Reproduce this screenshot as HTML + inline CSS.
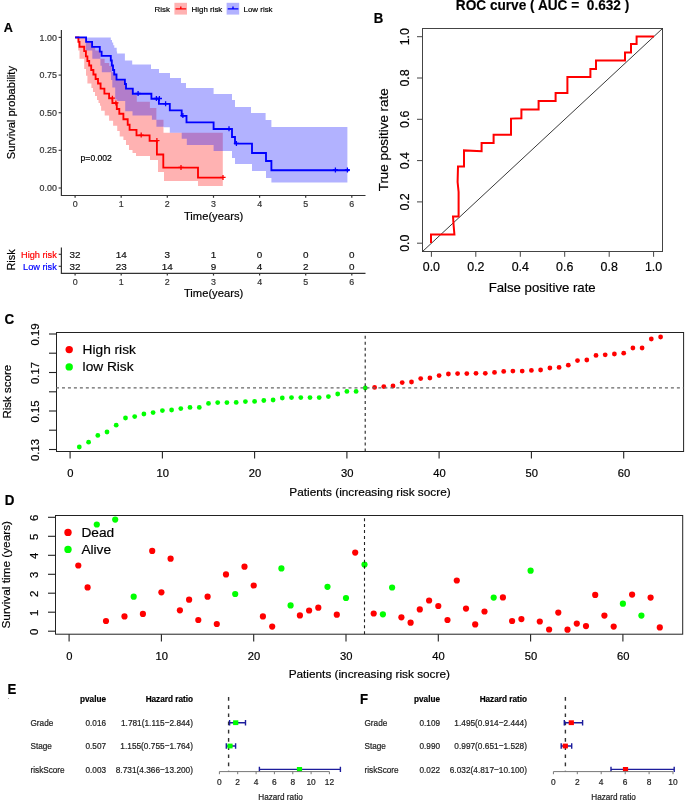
<!DOCTYPE html>
<html><head><meta charset="utf-8"><style>
html,body{margin:0;padding:0;background:#fff;}
body{width:685px;height:801px;overflow:hidden;font-family:"Liberation Sans", sans-serif;}
svg{display:block;will-change:transform;}
</style></head><body>
<svg width="685" height="801" viewBox="0 0 685 801" font-family='"Liberation Sans", sans-serif'>
<path d="M75.1,37.4 L85.8,37.4 L85.8,41.8 L92.0,41.8 L92.0,47.1 L95.2,47.1 L95.2,50.6 L100.4,50.6 L100.4,58.8 L104.6,58.8 L104.6,63.0 L109.2,63.0 L109.2,66.0 L111.7,66.0 L111.7,72.3 L115.2,72.3 L115.2,75.0 L116.5,75.0 L116.5,79.6 L125.0,79.6 L125.0,88.6 L132.8,88.6 L132.8,95.0 L136.8,95.0 L136.8,101.8 L149.9,101.8 L149.9,107.9 L156.4,107.9 L156.4,119.8 L163.5,119.8 L163.5,132.7 L222.8,132.7 L222.8,132.7 L222.8,186.0 L198.0,186.0 L198.0,181.0 L164.0,181.0 L164.0,172.0 L158.0,172.0 L158.0,160.0 L150.0,160.0 L150.0,156.0 L136.0,156.0 L136.0,153.0 L132.5,153.0 L132.5,150.0 L129.0,150.0 L129.0,145.0 L126.0,145.0 L126.0,140.0 L123.4,140.0 L123.4,136.4 L119.7,136.4 L119.7,130.9 L117.2,130.9 L117.2,125.8 L113.1,125.8 L113.1,120.7 L109.1,120.7 L109.1,115.5 L104.7,115.5 L104.7,110.8 L101.1,110.8 L101.1,105.7 L100.0,105.7 L100.0,103.0 L98.5,103.0 L98.5,100.0 L97.0,100.0 L97.0,96.0 L95.0,96.0 L95.0,92.0 L93.0,92.0 L93.0,88.0 L91.4,88.0 L91.4,83.6 L87.4,83.6 L87.4,75.7 L86.0,75.7 L86.0,69.0 L84.2,69.0 L84.2,58.8 L79.5,58.8 L79.5,50.4 L78.2,50.4 L78.2,38.5 L75.1,38.5 Z" fill="#FF0000" fill-opacity="0.3"/>
<path d="M75.1,37.4 L110.8,37.4 L110.8,40.0 L112.0,40.0 L112.0,42.5 L113.2,42.5 L113.2,45.3 L114.3,45.3 L114.3,47.8 L116.7,47.8 L116.7,51.5 L117.1,51.5 L117.1,53.5 L124.9,53.5 L124.9,60.5 L132.2,60.5 L132.2,64.6 L151.0,64.6 L151.0,69.0 L159.0,69.0 L159.0,73.0 L170.0,73.0 L170.0,78.0 L181.0,78.0 L181.0,83.0 L186.0,83.0 L186.0,88.0 L213.6,88.0 L213.6,94.0 L232.0,94.0 L232.0,100.0 L235.0,100.0 L235.0,107.0 L251.0,107.0 L251.0,113.0 L265.6,113.0 L265.6,120.0 L271.4,120.0 L271.4,127.0 L347.4,127.0 L347.4,127.0 L347.4,182.6 L271.4,182.6 L271.4,178.0 L266.0,178.0 L266.0,171.0 L252.0,171.0 L252.0,164.0 L235.0,164.0 L235.0,158.0 L232.0,158.0 L232.0,151.0 L213.6,151.0 L213.6,145.1 L186.8,145.1 L186.8,138.7 L181.7,138.7 L181.7,132.7 L169.8,132.7 L169.8,127.2 L163.8,127.2 L163.8,126.7 L156.4,126.7 L156.4,119.8 L151.9,119.8 L151.9,115.5 L132.5,115.5 L132.5,111.2 L125.2,111.2 L125.2,101.0 L117.2,101.0 L117.2,99.5 L115.2,99.5 L115.2,87.4 L112.3,87.4 L112.3,80.0 L111.1,80.0 L111.1,72.3 L101.8,72.3 L101.8,65.8 L100.4,65.8 L100.4,58.8 L92.3,58.8 L92.3,50.6 L85.8,50.6 L85.8,38.5 L75.1,38.5 Z" fill="#0000FF" fill-opacity="0.3"/>
<path d="M75.1,37.4 L78.4,37.4 L78.4,41.9 L79.5,41.9 L79.5,46.7 L84.2,46.7 L84.2,51.1 L85.9,51.1 L85.9,56.3 L87.4,56.3 L87.4,61.0 L89.2,61.0 L89.2,65.5 L91.2,65.5 L91.2,70.0 L93.4,70.0 L93.4,74.5 L95.6,74.5 L95.6,79.0 L98.0,79.0 L98.0,83.5 L100.6,83.5 L100.6,88.6 L104.4,88.6 L104.4,93.6 L109.1,93.6 L109.1,98.4 L112.4,98.4 L112.4,103.1 L116.8,103.1 L116.8,109.0 L119.3,109.0 L119.3,113.7 L123.4,113.7 L123.4,119.2 L127.7,119.2 L127.7,124.7 L129.6,124.7 L129.6,129.8 L136.5,129.8 L136.5,135.3 L149.6,135.3 L149.6,140.8 L156.9,140.8 L156.9,154.5 L163.3,154.5 L163.3,167.6 L198.0,167.6 L198.0,177.6 L223.0,177.6 L223.0,177.6" fill="none" stroke="#FF0000" stroke-width="1.85"/>
<path d="M75.1,37.4 L86.1,37.4 L86.1,41.8 L92.1,41.8 L92.1,46.8 L99.8,46.8 L99.8,51.6 L101.6,51.6 L101.6,55.9 L110.8,55.9 L110.8,60.5 L111.8,60.5 L111.8,65.5 L113.0,65.5 L113.0,70.0 L114.2,70.0 L114.2,74.5 L116.5,74.5 L116.5,79.6 L124.9,79.6 L124.9,84.0 L126.0,84.0 L126.0,88.6 L132.8,88.6 L132.8,93.7 L151.4,93.7 L151.4,98.7 L158.9,98.7 L158.9,103.9 L169.8,103.9 L169.8,110.4 L181.7,110.4 L181.7,115.8 L186.5,115.8 L186.5,122.4 L213.6,122.4 L213.6,129.0 L232.0,129.0 L232.0,137.0 L235.0,137.0 L235.0,143.6 L252.0,143.6 L252.0,153.0 L266.0,153.0 L266.0,161.0 L271.4,161.0 L271.4,170.2 L349.4,170.2 L349.4,170.2" fill="none" stroke="#0000FF" stroke-width="1.85"/>
<path d="M112.4,95.7 V100.7 M109.80000000000001,98.2 H115.0" stroke="#FF0000" stroke-width="1.3"/>
<path d="M115.9,100.39999999999999 V105.39999999999999 M113.30000000000001,102.89999999999999 H118.5" stroke="#FF0000" stroke-width="1.3"/>
<path d="M141.2,132.60000000000002 V137.60000000000002 M138.6,135.10000000000002 H143.79999999999998" stroke="#FF0000" stroke-width="1.3"/>
<path d="M156.9,138.10000000000002 V143.10000000000002 M154.3,140.60000000000002 H159.5" stroke="#FF0000" stroke-width="1.3"/>
<path d="M181,164.9 V169.9 M178.4,167.4 H183.6" stroke="#FF0000" stroke-width="1.3"/>
<path d="M223,174.9 V179.9 M220.4,177.4 H225.6" stroke="#FF0000" stroke-width="1.3"/>
<path d="M138.1,91.0 V96.0 M135.5,93.5 H140.7" stroke="#0000FF" stroke-width="1.3"/>
<path d="M156.4,96.0 V101.0 M153.8,98.5 H159.0" stroke="#0000FF" stroke-width="1.3"/>
<path d="M159.4,96.0 V101.0 M156.8,98.5 H162.0" stroke="#0000FF" stroke-width="1.3"/>
<path d="M165.6,101.2 V106.2 M163.0,103.7 H168.2" stroke="#0000FF" stroke-width="1.3"/>
<path d="M182.9,113.1 V118.1 M180.3,115.6 H185.5" stroke="#0000FF" stroke-width="1.3"/>
<path d="M229,126.3 V131.3 M226.4,128.8 H231.6" stroke="#0000FF" stroke-width="1.3"/>
<path d="M236.4,140.9 V145.9 M233.8,143.4 H239.0" stroke="#0000FF" stroke-width="1.3"/>
<path d="M335.4,167.5 V172.5 M332.79999999999995,170.0 H338.0" stroke="#0000FF" stroke-width="1.3"/>
<path d="M347.4,167.5 V172.5 M344.79999999999995,170.0 H350.0" stroke="#0000FF" stroke-width="1.3"/>
<path d="M61.4,30 V195.5 H365.5" fill="none" stroke="#333" stroke-width="1.2"/>
<path d="M58.6,37.4 H61" stroke="#333" stroke-width="1.1"/>
<text x="56.9" y="40.5" font-size="8.9" text-anchor="end" fill="#333" stroke="#333" stroke-width="0.2">1.00</text>
<path d="M58.6,75.1 H61" stroke="#333" stroke-width="1.1"/>
<text x="56.9" y="78.2" font-size="8.9" text-anchor="end" fill="#333" stroke="#333" stroke-width="0.2">0.75</text>
<path d="M58.6,112.7 H61" stroke="#333" stroke-width="1.1"/>
<text x="56.9" y="115.8" font-size="8.9" text-anchor="end" fill="#333" stroke="#333" stroke-width="0.2">0.50</text>
<path d="M58.6,150.3 H61" stroke="#333" stroke-width="1.1"/>
<text x="56.9" y="153.4" font-size="8.9" text-anchor="end" fill="#333" stroke="#333" stroke-width="0.2">0.25</text>
<path d="M58.6,188.0 H61" stroke="#333" stroke-width="1.1"/>
<text x="56.9" y="191.1" font-size="8.9" text-anchor="end" fill="#333" stroke="#333" stroke-width="0.2">0.00</text>
<path d="M75.1,196 V197.8" stroke="#333" stroke-width="1.2"/>
<text x="75.1" y="206.6" font-size="8.9" text-anchor="middle" fill="#333" stroke="#333" stroke-width="0.2">0</text>
<path d="M121.2,196 V197.8" stroke="#333" stroke-width="1.2"/>
<text x="121.2" y="206.6" font-size="8.9" text-anchor="middle" fill="#333" stroke="#333" stroke-width="0.2">1</text>
<path d="M167.3,196 V197.8" stroke="#333" stroke-width="1.2"/>
<text x="167.3" y="206.6" font-size="8.9" text-anchor="middle" fill="#333" stroke="#333" stroke-width="0.2">2</text>
<path d="M213.5,196 V197.8" stroke="#333" stroke-width="1.2"/>
<text x="213.5" y="206.6" font-size="8.9" text-anchor="middle" fill="#333" stroke="#333" stroke-width="0.2">3</text>
<path d="M259.6,196 V197.8" stroke="#333" stroke-width="1.2"/>
<text x="259.6" y="206.6" font-size="8.9" text-anchor="middle" fill="#333" stroke="#333" stroke-width="0.2">4</text>
<path d="M305.7,196 V197.8" stroke="#333" stroke-width="1.2"/>
<text x="305.7" y="206.6" font-size="8.9" text-anchor="middle" fill="#333" stroke="#333" stroke-width="0.2">5</text>
<path d="M351.8,196 V197.8" stroke="#333" stroke-width="1.2"/>
<text x="351.8" y="206.6" font-size="8.9" text-anchor="middle" fill="#333" stroke="#333" stroke-width="0.2">6</text>
<text x="213.6" y="219.6" font-size="11.2" text-anchor="middle" fill="#000" stroke="#000" stroke-width="0.2">Time(years)</text>
<text x="15.2" y="112.6" font-size="11.1" text-anchor="middle" fill="#000" stroke="#000" stroke-width="0.2" transform="rotate(-90 15.2 112.6)">Survival probability</text>
<text x="80.6" y="161.2" font-size="8.6" text-anchor="start" fill="#000" stroke="#000" stroke-width="0.2">p=0.002</text>
<text x="0" y="0" transform="translate(3.7 32.2) scale(1 1.06)" font-size="12.6" text-anchor="start" fill="#000" font-weight="bold" stroke="#000" stroke-width="0.2">A</text>
<text x="154.6" y="11.5" font-size="7.9" text-anchor="start" fill="#000" stroke="#000" stroke-width="0.2">Risk</text>
<rect x="174.4" y="2.8" width="12.6" height="11.8" fill="#FF0000" fill-opacity="0.3"/>
<path d="M175.5,8.9 H186.2 M180.8,6.4 V9.6" stroke="#FF0000" stroke-width="1.4"/>
<text x="191.6" y="11.5" font-size="7.9" text-anchor="start" fill="#000" stroke="#000" stroke-width="0.2">High risk</text>
<rect x="226.6" y="2.8" width="12.6" height="11.8" fill="#0000FF" fill-opacity="0.3"/>
<path d="M227.7,8.9 H238.4 M233,6.4 V9.6" stroke="#0000FF" stroke-width="1.4"/>
<text x="243.6" y="11.5" font-size="7.9" text-anchor="start" fill="#000" stroke="#000" stroke-width="0.2">Low risk</text>
<path d="M61.4,247.4 V273.3 H365.5" fill="none" stroke="#333" stroke-width="1.2"/>
<path d="M58.7,254.3 H61" stroke="#333" stroke-width="1.1"/>
<path d="M58.7,266.3 H61" stroke="#333" stroke-width="1.1"/>
<text x="56.8" y="257.7" font-size="9.2" text-anchor="end" fill="#FF0000" stroke="#FF0000" stroke-width="0.2">High risk</text>
<text x="56.8" y="269.5" font-size="9.2" text-anchor="end" fill="#0000FF" stroke="#0000FF" stroke-width="0.2">Low risk</text>
<text x="15.3" y="260" font-size="10.9" text-anchor="middle" fill="#000" stroke="#000" stroke-width="0.2" transform="rotate(-90 15.3 260)">Risk</text>
<text x="75.1" y="257.9" font-size="9.9" text-anchor="middle" fill="#111" stroke="#111" stroke-width="0.2">32</text>
<text x="75.1" y="270.0" font-size="9.9" text-anchor="middle" fill="#111" stroke="#111" stroke-width="0.2">32</text>
<path d="M75.1,274 V275.6" stroke="#333" stroke-width="1.2"/>
<text x="75.1" y="284.6" font-size="8.9" text-anchor="middle" fill="#333" stroke="#333" stroke-width="0.2">0</text>
<text x="121.2" y="257.9" font-size="9.9" text-anchor="middle" fill="#111" stroke="#111" stroke-width="0.2">14</text>
<text x="121.2" y="270.0" font-size="9.9" text-anchor="middle" fill="#111" stroke="#111" stroke-width="0.2">23</text>
<path d="M121.2,274 V275.6" stroke="#333" stroke-width="1.2"/>
<text x="121.2" y="284.6" font-size="8.9" text-anchor="middle" fill="#333" stroke="#333" stroke-width="0.2">1</text>
<text x="167.3" y="257.9" font-size="9.9" text-anchor="middle" fill="#111" stroke="#111" stroke-width="0.2">3</text>
<text x="167.3" y="270.0" font-size="9.9" text-anchor="middle" fill="#111" stroke="#111" stroke-width="0.2">14</text>
<path d="M167.3,274 V275.6" stroke="#333" stroke-width="1.2"/>
<text x="167.3" y="284.6" font-size="8.9" text-anchor="middle" fill="#333" stroke="#333" stroke-width="0.2">2</text>
<text x="213.5" y="257.9" font-size="9.9" text-anchor="middle" fill="#111" stroke="#111" stroke-width="0.2">1</text>
<text x="213.5" y="270.0" font-size="9.9" text-anchor="middle" fill="#111" stroke="#111" stroke-width="0.2">9</text>
<path d="M213.5,274 V275.6" stroke="#333" stroke-width="1.2"/>
<text x="213.5" y="284.6" font-size="8.9" text-anchor="middle" fill="#333" stroke="#333" stroke-width="0.2">3</text>
<text x="259.6" y="257.9" font-size="9.9" text-anchor="middle" fill="#111" stroke="#111" stroke-width="0.2">0</text>
<text x="259.6" y="270.0" font-size="9.9" text-anchor="middle" fill="#111" stroke="#111" stroke-width="0.2">4</text>
<path d="M259.6,274 V275.6" stroke="#333" stroke-width="1.2"/>
<text x="259.6" y="284.6" font-size="8.9" text-anchor="middle" fill="#333" stroke="#333" stroke-width="0.2">4</text>
<text x="305.7" y="257.9" font-size="9.9" text-anchor="middle" fill="#111" stroke="#111" stroke-width="0.2">0</text>
<text x="305.7" y="270.0" font-size="9.9" text-anchor="middle" fill="#111" stroke="#111" stroke-width="0.2">2</text>
<path d="M305.7,274 V275.6" stroke="#333" stroke-width="1.2"/>
<text x="305.7" y="284.6" font-size="8.9" text-anchor="middle" fill="#333" stroke="#333" stroke-width="0.2">5</text>
<text x="351.8" y="257.9" font-size="9.9" text-anchor="middle" fill="#111" stroke="#111" stroke-width="0.2">0</text>
<text x="351.8" y="270.0" font-size="9.9" text-anchor="middle" fill="#111" stroke="#111" stroke-width="0.2">0</text>
<path d="M351.8,274 V275.6" stroke="#333" stroke-width="1.2"/>
<text x="351.8" y="284.6" font-size="8.9" text-anchor="middle" fill="#333" stroke="#333" stroke-width="0.2">6</text>
<text x="213.6" y="296.6" font-size="11.2" text-anchor="middle" fill="#000" stroke="#000" stroke-width="0.2">Time(years)</text>
<text x="0" y="0" transform="translate(373.8 22.8) scale(1 1.04)" font-size="13.2" text-anchor="start" fill="#000" font-weight="bold" stroke="#000" stroke-width="0.2">B</text>
<text x="0" y="0" transform="translate(455.8 10.1) scale(1 1.05)" font-size="13.65" font-weight="bold" fill="#000" stroke="#000" stroke-width="0.15" xml:space="preserve">ROC curve ( AUC =  0.632 )</text>
<rect x="422.5" y="28.5" width="240" height="223" fill="none" stroke="#444" stroke-width="1"/>
<path d="M422.5,251.5 L662.5,28.5" stroke="#222" stroke-width="0.9"/>
<path d="M431.0,243.0 L431.0,234.4 L454.4,234.4 L453.6,225.0 L453.0,216.4 L458.6,216.4 L458.6,192.0 L457.6,182.0 L458.0,166.6 L464.0,166.6 L464.0,150.4 L481.6,151.2 L481.6,143.0 L493.6,143.0 L493.6,134.8 L511.0,134.8 L511.0,118.6 L521.4,118.2 L521.4,109.4 L538.6,109.4 L538.6,101.0 L555.6,101.0 L555.6,93.0 L567.4,93.0 L567.4,77.0 L590.4,77.0 L590.4,69.0 L596.0,69.0 L596.0,60.6 L625.0,60.6 L625.0,52.4 L631.0,52.4 L631.0,44.0 L636.6,44.0 L636.6,36.4 L654.0,36.4" fill="none" stroke="#FF0000" stroke-width="2"/>
<path d="M417,243.2 H422.5" stroke="#444" stroke-width="1"/>
<path d="M431.4,251.5 V256.8" stroke="#444" stroke-width="1"/>
<text x="431.4" y="271" font-size="12.4" text-anchor="middle" fill="#000" stroke="#000" stroke-width="0.2">0.0</text>
<text x="409.2" y="243.2" font-size="12.4" text-anchor="middle" fill="#000" stroke="#000" stroke-width="0.2" transform="rotate(-90 409.2 243.2)">0.0</text>
<path d="M417,201.9 H422.5" stroke="#444" stroke-width="1"/>
<path d="M475.8,251.5 V256.8" stroke="#444" stroke-width="1"/>
<text x="475.8" y="271" font-size="12.4" text-anchor="middle" fill="#000" stroke="#000" stroke-width="0.2">0.2</text>
<text x="409.2" y="201.9" font-size="12.4" text-anchor="middle" fill="#000" stroke="#000" stroke-width="0.2" transform="rotate(-90 409.2 201.9)">0.2</text>
<path d="M417,160.6 H422.5" stroke="#444" stroke-width="1"/>
<path d="M520.3,251.5 V256.8" stroke="#444" stroke-width="1"/>
<text x="520.3" y="271" font-size="12.4" text-anchor="middle" fill="#000" stroke="#000" stroke-width="0.2">0.4</text>
<text x="409.2" y="160.6" font-size="12.4" text-anchor="middle" fill="#000" stroke="#000" stroke-width="0.2" transform="rotate(-90 409.2 160.6)">0.4</text>
<path d="M417,119.3 H422.5" stroke="#444" stroke-width="1"/>
<path d="M564.7,251.5 V256.8" stroke="#444" stroke-width="1"/>
<text x="564.7" y="271" font-size="12.4" text-anchor="middle" fill="#000" stroke="#000" stroke-width="0.2">0.6</text>
<text x="409.2" y="119.3" font-size="12.4" text-anchor="middle" fill="#000" stroke="#000" stroke-width="0.2" transform="rotate(-90 409.2 119.3)">0.6</text>
<path d="M417,78.0 H422.5" stroke="#444" stroke-width="1"/>
<path d="M609.2,251.5 V256.8" stroke="#444" stroke-width="1"/>
<text x="609.2" y="271" font-size="12.4" text-anchor="middle" fill="#000" stroke="#000" stroke-width="0.2">0.8</text>
<text x="409.2" y="78.0" font-size="12.4" text-anchor="middle" fill="#000" stroke="#000" stroke-width="0.2" transform="rotate(-90 409.2 78.0)">0.8</text>
<path d="M417,36.7 H422.5" stroke="#444" stroke-width="1"/>
<path d="M653.6,251.5 V256.8" stroke="#444" stroke-width="1"/>
<text x="653.6" y="271" font-size="12.4" text-anchor="middle" fill="#000" stroke="#000" stroke-width="0.2">1.0</text>
<text x="409.2" y="36.7" font-size="12.4" text-anchor="middle" fill="#000" stroke="#000" stroke-width="0.2" transform="rotate(-90 409.2 36.7)">1.0</text>
<text x="542.2" y="291.8" font-size="13.2" text-anchor="middle" fill="#000" stroke="#000" stroke-width="0.2">False positive rate</text>
<text x="387.8" y="139.8" font-size="13.4" text-anchor="middle" fill="#000" stroke="#000" stroke-width="0.2" transform="rotate(-90 387.8 139.8)">True positive rate</text>
<text x="0" y="0" transform="translate(4.6 323.5) scale(1 1.04)" font-size="13.4" text-anchor="start" fill="#000" font-weight="bold" stroke="#000" stroke-width="0.2">C</text>
<rect x="56.5" y="332.5" width="627.1" height="119" fill="none" stroke="#222" stroke-width="1"/>
<circle cx="79.3" cy="447" r="2.4" fill="#00FF00"/>
<circle cx="88.6" cy="442.2" r="2.4" fill="#00FF00"/>
<circle cx="97.8" cy="435.4" r="2.4" fill="#00FF00"/>
<circle cx="107.0" cy="432" r="2.4" fill="#00FF00"/>
<circle cx="116.2" cy="425.2" r="2.4" fill="#00FF00"/>
<circle cx="125.5" cy="418" r="2.4" fill="#00FF00"/>
<circle cx="134.7" cy="416.6" r="2.4" fill="#00FF00"/>
<circle cx="143.9" cy="414" r="2.4" fill="#00FF00"/>
<circle cx="153.1" cy="412.6" r="2.4" fill="#00FF00"/>
<circle cx="162.4" cy="410.6" r="2.4" fill="#00FF00"/>
<circle cx="171.6" cy="410" r="2.4" fill="#00FF00"/>
<circle cx="180.8" cy="408.6" r="2.4" fill="#00FF00"/>
<circle cx="190.0" cy="407.4" r="2.4" fill="#00FF00"/>
<circle cx="199.3" cy="407.4" r="2.4" fill="#00FF00"/>
<circle cx="208.5" cy="403.4" r="2.4" fill="#00FF00"/>
<circle cx="217.7" cy="402.6" r="2.4" fill="#00FF00"/>
<circle cx="226.9" cy="402.6" r="2.4" fill="#00FF00"/>
<circle cx="236.2" cy="402.4" r="2.4" fill="#00FF00"/>
<circle cx="245.4" cy="401.6" r="2.4" fill="#00FF00"/>
<circle cx="254.6" cy="401.4" r="2.4" fill="#00FF00"/>
<circle cx="263.8" cy="400.5" r="2.4" fill="#00FF00"/>
<circle cx="273.1" cy="400" r="2.4" fill="#00FF00"/>
<circle cx="282.3" cy="398" r="2.4" fill="#00FF00"/>
<circle cx="291.5" cy="397.6" r="2.4" fill="#00FF00"/>
<circle cx="300.8" cy="397.6" r="2.4" fill="#00FF00"/>
<circle cx="310.0" cy="397.6" r="2.4" fill="#00FF00"/>
<circle cx="319.2" cy="397.6" r="2.4" fill="#00FF00"/>
<circle cx="328.4" cy="396.6" r="2.4" fill="#00FF00"/>
<circle cx="337.7" cy="394" r="2.4" fill="#00FF00"/>
<circle cx="346.9" cy="391.4" r="2.4" fill="#00FF00"/>
<circle cx="356.1" cy="391.4" r="2.4" fill="#00FF00"/>
<circle cx="365.3" cy="388" r="2.4" fill="#00FF00"/>
<circle cx="374.6" cy="387.4" r="2.4" fill="#FF0000"/>
<circle cx="383.8" cy="386.6" r="2.4" fill="#FF0000"/>
<circle cx="393.0" cy="386" r="2.4" fill="#FF0000"/>
<circle cx="402.2" cy="382.6" r="2.4" fill="#FF0000"/>
<circle cx="411.5" cy="382" r="2.4" fill="#FF0000"/>
<circle cx="420.7" cy="378.6" r="2.4" fill="#FF0000"/>
<circle cx="429.9" cy="378" r="2.4" fill="#FF0000"/>
<circle cx="439.1" cy="375.6" r="2.4" fill="#FF0000"/>
<circle cx="448.4" cy="374" r="2.4" fill="#FF0000"/>
<circle cx="457.6" cy="373.6" r="2.4" fill="#FF0000"/>
<circle cx="466.8" cy="373.6" r="2.4" fill="#FF0000"/>
<circle cx="476.0" cy="373.3" r="2.4" fill="#FF0000"/>
<circle cx="485.3" cy="373.3" r="2.4" fill="#FF0000"/>
<circle cx="494.5" cy="372.4" r="2.4" fill="#FF0000"/>
<circle cx="503.7" cy="371.4" r="2.4" fill="#FF0000"/>
<circle cx="512.9" cy="371.1" r="2.4" fill="#FF0000"/>
<circle cx="522.2" cy="371.1" r="2.4" fill="#FF0000"/>
<circle cx="531.4" cy="370.4" r="2.4" fill="#FF0000"/>
<circle cx="540.6" cy="370" r="2.4" fill="#FF0000"/>
<circle cx="549.9" cy="368" r="2.4" fill="#FF0000"/>
<circle cx="559.1" cy="367.4" r="2.4" fill="#FF0000"/>
<circle cx="568.3" cy="365.2" r="2.4" fill="#FF0000"/>
<circle cx="577.5" cy="360.6" r="2.4" fill="#FF0000"/>
<circle cx="586.8" cy="360" r="2.4" fill="#FF0000"/>
<circle cx="596.0" cy="355.4" r="2.4" fill="#FF0000"/>
<circle cx="605.2" cy="354.8" r="2.4" fill="#FF0000"/>
<circle cx="614.4" cy="354" r="2.4" fill="#FF0000"/>
<circle cx="623.7" cy="353.2" r="2.4" fill="#FF0000"/>
<circle cx="632.9" cy="348" r="2.4" fill="#FF0000"/>
<circle cx="642.1" cy="348" r="2.4" fill="#FF0000"/>
<circle cx="651.3" cy="339" r="2.4" fill="#FF0000"/>
<circle cx="660.6" cy="337" r="2.4" fill="#FF0000"/>
<path d="M56,387.8 H683.6" stroke="#666" stroke-width="1.2" stroke-dasharray="3 2.97"/>
<path d="M365.2,451.5 V332.5" stroke="#222" stroke-width="1.1" stroke-dasharray="3 2.93"/>
<path d="M49,449.5 H56.5" stroke="#222" stroke-width="1.1"/>
<text x="39.2" y="449.9" font-size="11.4" text-anchor="middle" fill="#000" stroke="#000" stroke-width="0.2" transform="rotate(-90 39.2 449.9)">0.13</text>
<path d="M49,430.2 H56.5" stroke="#222" stroke-width="1.1"/>
<path d="M49,411.0 H56.5" stroke="#222" stroke-width="1.1"/>
<text x="39.2" y="411.4" font-size="11.4" text-anchor="middle" fill="#000" stroke="#000" stroke-width="0.2" transform="rotate(-90 39.2 411.4)">0.15</text>
<path d="M49,391.8 H56.5" stroke="#222" stroke-width="1.1"/>
<path d="M49,372.5 H56.5" stroke="#222" stroke-width="1.1"/>
<text x="39.2" y="372.9" font-size="11.4" text-anchor="middle" fill="#000" stroke="#000" stroke-width="0.2" transform="rotate(-90 39.2 372.9)">0.17</text>
<path d="M49,353.2 H56.5" stroke="#222" stroke-width="1.1"/>
<path d="M49,334.0 H56.5" stroke="#222" stroke-width="1.1"/>
<text x="39.2" y="334.4" font-size="11.4" text-anchor="middle" fill="#000" stroke="#000" stroke-width="0.2" transform="rotate(-90 39.2 334.4)">0.19</text>
<path d="M70.1,451.5 V458.5" stroke="#222" stroke-width="1.1"/>
<text x="70.4" y="477.2" font-size="11.2" text-anchor="middle" fill="#000" stroke="#000" stroke-width="0.2">0</text>
<path d="M162.4,451.5 V458.5" stroke="#222" stroke-width="1.1"/>
<text x="162.7" y="477.2" font-size="11.2" text-anchor="middle" fill="#000" stroke="#000" stroke-width="0.2">10</text>
<path d="M254.6,451.5 V458.5" stroke="#222" stroke-width="1.1"/>
<text x="254.9" y="477.2" font-size="11.2" text-anchor="middle" fill="#000" stroke="#000" stroke-width="0.2">20</text>
<path d="M346.9,451.5 V458.5" stroke="#222" stroke-width="1.1"/>
<text x="347.2" y="477.2" font-size="11.2" text-anchor="middle" fill="#000" stroke="#000" stroke-width="0.2">30</text>
<path d="M439.1,451.5 V458.5" stroke="#222" stroke-width="1.1"/>
<text x="439.4" y="477.2" font-size="11.2" text-anchor="middle" fill="#000" stroke="#000" stroke-width="0.2">40</text>
<path d="M531.4,451.5 V458.5" stroke="#222" stroke-width="1.1"/>
<text x="531.7" y="477.2" font-size="11.2" text-anchor="middle" fill="#000" stroke="#000" stroke-width="0.2">50</text>
<path d="M623.7,451.5 V458.5" stroke="#222" stroke-width="1.1"/>
<text x="624.0" y="477.2" font-size="11.2" text-anchor="middle" fill="#000" stroke="#000" stroke-width="0.2">60</text>
<text x="370" y="495.6" font-size="11.8" text-anchor="middle" fill="#000" stroke="#000" stroke-width="0.2">Patients (increasing risk socre)</text>
<text x="10.8" y="391.7" font-size="11.5" text-anchor="middle" fill="#000" stroke="#000" stroke-width="0.2" transform="rotate(-90 10.8 391.7)">Risk score</text>
<circle cx="69.2" cy="349.6" r="3.7" fill="#FF0000"/>
<circle cx="69.2" cy="366.9" r="3.7" fill="#00FF00"/>
<text x="82.6" y="354.2" font-size="13.7" text-anchor="start" fill="#000" stroke="#000" stroke-width="0.2">High risk</text>
<text x="82.6" y="371.3" font-size="13.7" text-anchor="start" fill="#000" stroke="#000" stroke-width="0.2">low Risk</text>
<text x="0" y="0" transform="translate(4.8 505.2) scale(1 1.04)" font-size="13.4" text-anchor="start" fill="#000" font-weight="bold" stroke="#000" stroke-width="0.2">D</text>
<rect x="55.5" y="515.5" width="627.2" height="118.7" fill="none" stroke="#222" stroke-width="1"/>
<circle cx="78.3" cy="565.5" r="3.1" fill="#FF0000"/>
<circle cx="87.6" cy="587.4" r="3.1" fill="#FF0000"/>
<circle cx="96.8" cy="524.5" r="3.1" fill="#00FF00"/>
<circle cx="106.0" cy="621.0" r="3.1" fill="#FF0000"/>
<circle cx="115.2" cy="519.6" r="3.1" fill="#00FF00"/>
<circle cx="124.5" cy="616.4" r="3.1" fill="#FF0000"/>
<circle cx="133.7" cy="596.7" r="3.1" fill="#00FF00"/>
<circle cx="142.9" cy="613.9" r="3.1" fill="#FF0000"/>
<circle cx="152.2" cy="550.9" r="3.1" fill="#FF0000"/>
<circle cx="161.4" cy="592.3" r="3.1" fill="#FF0000"/>
<circle cx="170.6" cy="558.7" r="3.1" fill="#FF0000"/>
<circle cx="179.9" cy="610.3" r="3.1" fill="#FF0000"/>
<circle cx="189.1" cy="599.7" r="3.1" fill="#FF0000"/>
<circle cx="198.3" cy="620.0" r="3.1" fill="#FF0000"/>
<circle cx="207.6" cy="596.7" r="3.1" fill="#FF0000"/>
<circle cx="216.8" cy="624.0" r="3.1" fill="#FF0000"/>
<circle cx="226.0" cy="574.4" r="3.1" fill="#FF0000"/>
<circle cx="235.2" cy="594.0" r="3.1" fill="#00FF00"/>
<circle cx="244.5" cy="566.7" r="3.1" fill="#FF0000"/>
<circle cx="253.7" cy="585.5" r="3.1" fill="#FF0000"/>
<circle cx="262.9" cy="616.4" r="3.1" fill="#FF0000"/>
<circle cx="272.2" cy="626.6" r="3.1" fill="#FF0000"/>
<circle cx="281.4" cy="568.4" r="3.1" fill="#00FF00"/>
<circle cx="290.6" cy="605.4" r="3.1" fill="#00FF00"/>
<circle cx="299.9" cy="615.4" r="3.1" fill="#FF0000"/>
<circle cx="309.1" cy="610.5" r="3.1" fill="#FF0000"/>
<circle cx="318.3" cy="607.7" r="3.1" fill="#FF0000"/>
<circle cx="327.5" cy="586.8" r="3.1" fill="#00FF00"/>
<circle cx="336.8" cy="614.7" r="3.1" fill="#FF0000"/>
<circle cx="346.0" cy="598.0" r="3.1" fill="#00FF00"/>
<circle cx="355.2" cy="552.6" r="3.1" fill="#FF0000"/>
<circle cx="364.5" cy="564.6" r="3.1" fill="#00FF00"/>
<circle cx="373.7" cy="613.5" r="3.1" fill="#FF0000"/>
<circle cx="382.9" cy="614.3" r="3.1" fill="#00FF00"/>
<circle cx="392.1" cy="587.5" r="3.1" fill="#00FF00"/>
<circle cx="401.4" cy="617.3" r="3.1" fill="#FF0000"/>
<circle cx="410.6" cy="622.7" r="3.1" fill="#FF0000"/>
<circle cx="419.8" cy="609.4" r="3.1" fill="#FF0000"/>
<circle cx="429.1" cy="600.5" r="3.1" fill="#FF0000"/>
<circle cx="438.3" cy="606.0" r="3.1" fill="#FF0000"/>
<circle cx="447.5" cy="620.0" r="3.1" fill="#FF0000"/>
<circle cx="456.8" cy="580.5" r="3.1" fill="#FF0000"/>
<circle cx="466.0" cy="608.6" r="3.1" fill="#FF0000"/>
<circle cx="475.2" cy="624.4" r="3.1" fill="#FF0000"/>
<circle cx="484.5" cy="611.5" r="3.1" fill="#FF0000"/>
<circle cx="493.7" cy="597.6" r="3.1" fill="#00FF00"/>
<circle cx="502.9" cy="597.4" r="3.1" fill="#FF0000"/>
<circle cx="512.1" cy="621.0" r="3.1" fill="#FF0000"/>
<circle cx="521.4" cy="619.1" r="3.1" fill="#FF0000"/>
<circle cx="530.6" cy="570.7" r="3.1" fill="#00FF00"/>
<circle cx="539.8" cy="621.5" r="3.1" fill="#FF0000"/>
<circle cx="549.1" cy="629.5" r="3.1" fill="#FF0000"/>
<circle cx="558.3" cy="612.6" r="3.1" fill="#FF0000"/>
<circle cx="567.5" cy="629.7" r="3.1" fill="#FF0000"/>
<circle cx="576.8" cy="623.6" r="3.1" fill="#FF0000"/>
<circle cx="586.0" cy="626.1" r="3.1" fill="#FF0000"/>
<circle cx="595.2" cy="594.9" r="3.1" fill="#FF0000"/>
<circle cx="604.4" cy="615.6" r="3.1" fill="#FF0000"/>
<circle cx="613.7" cy="626.6" r="3.1" fill="#FF0000"/>
<circle cx="622.9" cy="603.7" r="3.1" fill="#00FF00"/>
<circle cx="632.1" cy="594.6" r="3.1" fill="#FF0000"/>
<circle cx="641.4" cy="615.6" r="3.1" fill="#00FF00"/>
<circle cx="650.6" cy="597.6" r="3.1" fill="#FF0000"/>
<circle cx="659.8" cy="627.4" r="3.1" fill="#FF0000"/>
<path d="M364.5,634.2 V515.5" stroke="#222" stroke-width="1.1" stroke-dasharray="3 2.95"/>
<path d="M48,631.2 H55.5" stroke="#222" stroke-width="1.1"/>
<text x="38.4" y="631.7" font-size="11.4" text-anchor="middle" fill="#000" stroke="#000" stroke-width="0.2" transform="rotate(-90 38.4 631.7)">0</text>
<path d="M48,612.2 H55.5" stroke="#222" stroke-width="1.1"/>
<text x="38.4" y="612.7" font-size="11.4" text-anchor="middle" fill="#000" stroke="#000" stroke-width="0.2" transform="rotate(-90 38.4 612.7)">1</text>
<path d="M48,593.2 H55.5" stroke="#222" stroke-width="1.1"/>
<text x="38.4" y="593.7" font-size="11.4" text-anchor="middle" fill="#000" stroke="#000" stroke-width="0.2" transform="rotate(-90 38.4 593.7)">2</text>
<path d="M48,574.3 H55.5" stroke="#222" stroke-width="1.1"/>
<text x="38.4" y="574.8" font-size="11.4" text-anchor="middle" fill="#000" stroke="#000" stroke-width="0.2" transform="rotate(-90 38.4 574.8)">3</text>
<path d="M48,555.3 H55.5" stroke="#222" stroke-width="1.1"/>
<text x="38.4" y="555.8" font-size="11.4" text-anchor="middle" fill="#000" stroke="#000" stroke-width="0.2" transform="rotate(-90 38.4 555.8)">4</text>
<path d="M48,536.3 H55.5" stroke="#222" stroke-width="1.1"/>
<text x="38.4" y="536.8" font-size="11.4" text-anchor="middle" fill="#000" stroke="#000" stroke-width="0.2" transform="rotate(-90 38.4 536.8)">5</text>
<path d="M48,517.3 H55.5" stroke="#222" stroke-width="1.1"/>
<text x="38.4" y="517.8" font-size="11.4" text-anchor="middle" fill="#000" stroke="#000" stroke-width="0.2" transform="rotate(-90 38.4 517.8)">6</text>
<path d="M69.1,634.2 V641.4" stroke="#222" stroke-width="1.1"/>
<text x="69.4" y="660.2" font-size="11.2" text-anchor="middle" fill="#000" stroke="#000" stroke-width="0.2">0</text>
<path d="M161.4,634.2 V641.4" stroke="#222" stroke-width="1.1"/>
<text x="161.7" y="660.2" font-size="11.2" text-anchor="middle" fill="#000" stroke="#000" stroke-width="0.2">10</text>
<path d="M253.7,634.2 V641.4" stroke="#222" stroke-width="1.1"/>
<text x="254.0" y="660.2" font-size="11.2" text-anchor="middle" fill="#000" stroke="#000" stroke-width="0.2">20</text>
<path d="M346.0,634.2 V641.4" stroke="#222" stroke-width="1.1"/>
<text x="346.3" y="660.2" font-size="11.2" text-anchor="middle" fill="#000" stroke="#000" stroke-width="0.2">30</text>
<path d="M438.3,634.2 V641.4" stroke="#222" stroke-width="1.1"/>
<text x="438.6" y="660.2" font-size="11.2" text-anchor="middle" fill="#000" stroke="#000" stroke-width="0.2">40</text>
<path d="M530.6,634.2 V641.4" stroke="#222" stroke-width="1.1"/>
<text x="530.9" y="660.2" font-size="11.2" text-anchor="middle" fill="#000" stroke="#000" stroke-width="0.2">50</text>
<path d="M622.9,634.2 V641.4" stroke="#222" stroke-width="1.1"/>
<text x="623.2" y="660.2" font-size="11.2" text-anchor="middle" fill="#000" stroke="#000" stroke-width="0.2">60</text>
<text x="369.3" y="678.2" font-size="11.8" text-anchor="middle" fill="#000" stroke="#000" stroke-width="0.2">Patients (increasing risk socre)</text>
<text x="10" y="574.8" font-size="11.8" text-anchor="middle" fill="#000" stroke="#000" stroke-width="0.2" transform="rotate(-90 10 574.8)">Survival time (years)</text>
<circle cx="68" cy="532.4" r="3.7" fill="#FF0000"/>
<circle cx="68" cy="549.4" r="3.7" fill="#00FF00"/>
<text x="81.4" y="537.2" font-size="13.7" text-anchor="start" fill="#000" stroke="#000" stroke-width="0.2">Dead</text>
<text x="81.4" y="554.4" font-size="13.7" text-anchor="start" fill="#000" stroke="#000" stroke-width="0.2">Alive</text>
<rect x="8" y="698" width="1" height="1" fill="#aaa"/>
<text x="0" y="0" transform="translate(7.4 694.4) scale(1 1.04)" font-size="13.2" text-anchor="start" fill="#000" font-weight="bold" stroke="#000" stroke-width="0.2">E</text>
<text x="0" y="0" transform="translate(106 702.3) scale(1 1.15)" font-size="8.2" text-anchor="end" fill="#000" font-weight="bold" stroke="#000" stroke-width="0.2">pvalue</text>
<text x="0" y="0" transform="translate(193 702.3) scale(1 1.15)" font-size="8.2" text-anchor="end" fill="#000" font-weight="bold" stroke="#000" stroke-width="0.2">Hazard ratio</text>
<text x="0" y="0" transform="translate(30.5 725.8000000000001) scale(1 1.15)" font-size="8.2" text-anchor="start" fill="#222" stroke="#222" stroke-width="0.2">Grade</text>
<text x="0" y="0" transform="translate(106 725.8000000000001) scale(1 1.15)" font-size="8.2" text-anchor="end" fill="#222" stroke="#222" stroke-width="0.2">0.016</text>
<text x="0" y="0" transform="translate(193 725.8000000000001) scale(1 1.15)" font-size="8.3" text-anchor="end" fill="#222" stroke="#222" stroke-width="0.2">1.781(1.115−2.844)</text>
<text x="0" y="0" transform="translate(30.5 749.1) scale(1 1.15)" font-size="8.2" text-anchor="start" fill="#222" stroke="#222" stroke-width="0.2">Stage</text>
<text x="0" y="0" transform="translate(106 749.1) scale(1 1.15)" font-size="8.2" text-anchor="end" fill="#222" stroke="#222" stroke-width="0.2">0.507</text>
<text x="0" y="0" transform="translate(193 749.1) scale(1 1.15)" font-size="8.3" text-anchor="end" fill="#222" stroke="#222" stroke-width="0.2">1.155(0.755−1.764)</text>
<text x="0" y="0" transform="translate(30.5 772.5) scale(1 1.15)" font-size="8.2" text-anchor="start" fill="#222" stroke="#222" stroke-width="0.2">riskScore</text>
<text x="0" y="0" transform="translate(106 772.5) scale(1 1.15)" font-size="8.2" text-anchor="end" fill="#222" stroke="#222" stroke-width="0.2">0.003</text>
<text x="0" y="0" transform="translate(193 772.5) scale(1 1.15)" font-size="8.3" text-anchor="end" fill="#222" stroke="#222" stroke-width="0.2">8.731(4.366−13.200)</text>
<path d="M228.6,697 V771.6" stroke="#333" stroke-width="1.4" stroke-dasharray="3.7,4.5"/>
<path d="M229.6,722.7 H245.5 M229.6,720.0 V725.4000000000001 M245.5,720.0 V725.4000000000001" stroke="#1c1c9c" stroke-width="1.4"/>
<rect x="233.1" y="720.3000000000001" width="5.2" height="4.8" fill="#00FF00"/>
<path d="M226.3,746 H235.6 M226.3,743.3 V748.7 M235.6,743.3 V748.7" stroke="#1c1c9c" stroke-width="1.4"/>
<rect x="227.4" y="743.6" width="5.2" height="4.8" fill="#00FF00"/>
<path d="M259.4,769.4 H340.4 M259.4,766.6999999999999 V772.1 M340.4,766.6999999999999 V772.1" stroke="#1c1c9c" stroke-width="1.4"/>
<rect x="296.9" y="767.0" width="5.2" height="4.8" fill="#00FF00"/>
<path d="M219.4,771.6 H329.4" stroke="#777" stroke-width="1"/>
<path d="M219.4,771.6 V774.2" stroke="#777" stroke-width="1"/>
<text x="0" y="0" transform="translate(219.4 785.2) scale(1 1.1)" font-size="8.4" text-anchor="middle" fill="#222" stroke="#222" stroke-width="0.2">0</text>
<path d="M237.7,771.6 V774.2" stroke="#777" stroke-width="1"/>
<text x="0" y="0" transform="translate(237.7 785.2) scale(1 1.1)" font-size="8.4" text-anchor="middle" fill="#222" stroke="#222" stroke-width="0.2">2</text>
<path d="M256.1,771.6 V774.2" stroke="#777" stroke-width="1"/>
<text x="0" y="0" transform="translate(256.1 785.2) scale(1 1.1)" font-size="8.4" text-anchor="middle" fill="#222" stroke="#222" stroke-width="0.2">4</text>
<path d="M274.4,771.6 V774.2" stroke="#777" stroke-width="1"/>
<text x="0" y="0" transform="translate(274.4 785.2) scale(1 1.1)" font-size="8.4" text-anchor="middle" fill="#222" stroke="#222" stroke-width="0.2">6</text>
<path d="M292.8,771.6 V774.2" stroke="#777" stroke-width="1"/>
<text x="0" y="0" transform="translate(292.8 785.2) scale(1 1.1)" font-size="8.4" text-anchor="middle" fill="#222" stroke="#222" stroke-width="0.2">8</text>
<path d="M311.1,771.6 V774.2" stroke="#777" stroke-width="1"/>
<text x="0" y="0" transform="translate(311.1 785.2) scale(1 1.1)" font-size="8.4" text-anchor="middle" fill="#222" stroke="#222" stroke-width="0.2">10</text>
<path d="M329.4,771.6 V774.2" stroke="#777" stroke-width="1"/>
<text x="0" y="0" transform="translate(329.4 785.2) scale(1 1.1)" font-size="8.4" text-anchor="middle" fill="#222" stroke="#222" stroke-width="0.2">12</text>
<text x="0" y="0" transform="translate(280.5 799.6) scale(1 1.12)" font-size="8.2" text-anchor="middle" fill="#222" stroke="#222" stroke-width="0.2">Hazard ratio</text>
<text x="0" y="0" transform="translate(360 703.6) scale(1 1.04)" font-size="13.2" text-anchor="start" fill="#000" font-weight="bold" stroke="#000" stroke-width="0.2">F</text>
<text x="0" y="0" transform="translate(440 702.3) scale(1 1.15)" font-size="8.2" text-anchor="end" fill="#000" font-weight="bold" stroke="#000" stroke-width="0.2">pvalue</text>
<text x="0" y="0" transform="translate(527 702.3) scale(1 1.15)" font-size="8.2" text-anchor="end" fill="#000" font-weight="bold" stroke="#000" stroke-width="0.2">Hazard ratio</text>
<text x="0" y="0" transform="translate(364.5 725.8000000000001) scale(1 1.15)" font-size="8.2" text-anchor="start" fill="#222" stroke="#222" stroke-width="0.2">Grade</text>
<text x="0" y="0" transform="translate(440 725.8000000000001) scale(1 1.15)" font-size="8.2" text-anchor="end" fill="#222" stroke="#222" stroke-width="0.2">0.109</text>
<text x="0" y="0" transform="translate(527 725.8000000000001) scale(1 1.15)" font-size="8.3" text-anchor="end" fill="#222" stroke="#222" stroke-width="0.2">1.495(0.914−2.444)</text>
<text x="0" y="0" transform="translate(364.5 749.1) scale(1 1.15)" font-size="8.2" text-anchor="start" fill="#222" stroke="#222" stroke-width="0.2">Stage</text>
<text x="0" y="0" transform="translate(440 749.1) scale(1 1.15)" font-size="8.2" text-anchor="end" fill="#222" stroke="#222" stroke-width="0.2">0.990</text>
<text x="0" y="0" transform="translate(527 749.1) scale(1 1.15)" font-size="8.3" text-anchor="end" fill="#222" stroke="#222" stroke-width="0.2">0.997(0.651−1.528)</text>
<text x="0" y="0" transform="translate(364.5 772.5) scale(1 1.15)" font-size="8.2" text-anchor="start" fill="#222" stroke="#222" stroke-width="0.2">riskScore</text>
<text x="0" y="0" transform="translate(440 772.5) scale(1 1.15)" font-size="8.2" text-anchor="end" fill="#222" stroke="#222" stroke-width="0.2">0.022</text>
<text x="0" y="0" transform="translate(527 772.5) scale(1 1.15)" font-size="8.3" text-anchor="end" fill="#222" stroke="#222" stroke-width="0.2">6.032(4.817−10.100)</text>
<path d="M565.4,697 V771.6" stroke="#333" stroke-width="1.4" stroke-dasharray="3.7,4.5"/>
<path d="M564.3,722.7 H582.6 M564.3,720.0 V725.4000000000001 M582.6,720.0 V725.4000000000001" stroke="#1c1c9c" stroke-width="1.4"/>
<rect x="568.7" y="720.3000000000001" width="5.2" height="4.8" fill="#FF0000"/>
<path d="M561.2,746 H571.7 M561.2,743.3 V748.7 M571.7,743.3 V748.7" stroke="#1c1c9c" stroke-width="1.4"/>
<rect x="562.7" y="743.6" width="5.2" height="4.8" fill="#FF0000"/>
<path d="M611.0,769.4 H674.2 M611.0,766.6999999999999 V772.1 M674.2,766.6999999999999 V772.1" stroke="#1c1c9c" stroke-width="1.4"/>
<rect x="622.9" y="767.0" width="5.2" height="4.8" fill="#FF0000"/>
<path d="M553.4,771.6 H673.0" stroke="#777" stroke-width="1"/>
<path d="M553.4,771.6 V774.2" stroke="#777" stroke-width="1"/>
<text x="0" y="0" transform="translate(553.4 785.2) scale(1 1.1)" font-size="8.4" text-anchor="middle" fill="#222" stroke="#222" stroke-width="0.2">0</text>
<path d="M577.3,771.6 V774.2" stroke="#777" stroke-width="1"/>
<text x="0" y="0" transform="translate(577.3 785.2) scale(1 1.1)" font-size="8.4" text-anchor="middle" fill="#222" stroke="#222" stroke-width="0.2">2</text>
<path d="M601.2,771.6 V774.2" stroke="#777" stroke-width="1"/>
<text x="0" y="0" transform="translate(601.2 785.2) scale(1 1.1)" font-size="8.4" text-anchor="middle" fill="#222" stroke="#222" stroke-width="0.2">4</text>
<path d="M625.2,771.6 V774.2" stroke="#777" stroke-width="1"/>
<text x="0" y="0" transform="translate(625.2 785.2) scale(1 1.1)" font-size="8.4" text-anchor="middle" fill="#222" stroke="#222" stroke-width="0.2">6</text>
<path d="M649.1,771.6 V774.2" stroke="#777" stroke-width="1"/>
<text x="0" y="0" transform="translate(649.1 785.2) scale(1 1.1)" font-size="8.4" text-anchor="middle" fill="#222" stroke="#222" stroke-width="0.2">8</text>
<path d="M673.0,771.6 V774.2" stroke="#777" stroke-width="1"/>
<text x="0" y="0" transform="translate(673.0 785.2) scale(1 1.1)" font-size="8.4" text-anchor="middle" fill="#222" stroke="#222" stroke-width="0.2">10</text>
<text x="0" y="0" transform="translate(613.5 799.6) scale(1 1.12)" font-size="8.2" text-anchor="middle" fill="#222" stroke="#222" stroke-width="0.2">Hazard ratio</text>
</svg>
</body></html>
